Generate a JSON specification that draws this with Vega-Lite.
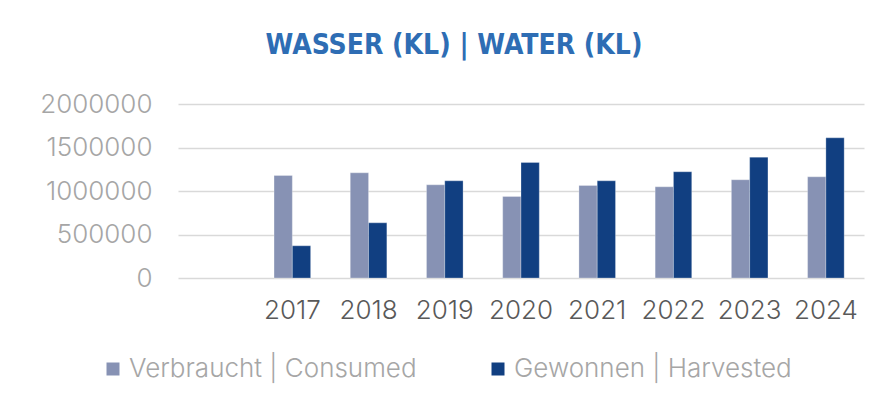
{
  "$schema": "https://vega.github.io/schema/vega-lite/v6.json",
  "autosize": {"type": "none"},
  "width": 686,
  "height": 174,
  "padding": {"left": 178, "top": 104, "right": 31, "bottom": 130},
  "background": "white",
  "title": {
    "text": "WASSER (KL) | WATER (KL)",
    "font": "Liberation Sans Narrow, DejaVu Sans Condensed, Roboto",
    "fontSize": 28,
    "fontWeight": "bold",
    "color": "#2e6db4",
    "anchor": "middle",
    "dx": -67,
    "offset": 31
  },
  "data": {
    "values": [
      {"year": "2017", "series": "Verbraucht | Consumed", "value": 1178000},
      {"year": "2017", "series": "Gewonnen | Harvested", "value": 370000},
      {"year": "2018", "series": "Verbraucht | Consumed", "value": 1209000},
      {"year": "2018", "series": "Gewonnen | Harvested", "value": 634000},
      {"year": "2019", "series": "Verbraucht | Consumed", "value": 1071000},
      {"year": "2019", "series": "Gewonnen | Harvested", "value": 1117000},
      {"year": "2020", "series": "Verbraucht | Consumed", "value": 937000},
      {"year": "2020", "series": "Gewonnen | Harvested", "value": 1328000},
      {"year": "2021", "series": "Verbraucht | Consumed", "value": 1063000},
      {"year": "2021", "series": "Gewonnen | Harvested", "value": 1117000},
      {"year": "2022", "series": "Verbraucht | Consumed", "value": 1048000},
      {"year": "2022", "series": "Gewonnen | Harvested", "value": 1221000},
      {"year": "2023", "series": "Verbraucht | Consumed", "value": 1129000},
      {"year": "2023", "series": "Gewonnen | Harvested", "value": 1389000},
      {"year": "2024", "series": "Verbraucht | Consumed", "value": 1163000},
      {"year": "2024", "series": "Gewonnen | Harvested", "value": 1611000}
    ]
  },
  "mark": {"type": "bar", "stroke": "#ffffff", "strokeOpacity": 0.35, "strokeWidth": 0.8},
  "encoding": {
    "x": {
      "field": "year",
      "type": "nominal",
      "scale": {
        "domain": ["2016", "2017", "2018", "2019", "2020", "2021", "2022", "2023", "2024"],
        "paddingInner": 0.52,
        "paddingOuter": 0.26
      },
      "axis": {
        "title": null,
        "labelAngle": 0,
        "labelExpr": "datum.value == '2016' ? '' : datum.value",
        "labelFont": "Inter",
        "labelFontWeight": 300,
        "labelFontSize": 26,
        "labelColor": "#595959",
        "labelPadding": 19,
        "ticks": false,
        "domain": false
      }
    },
    "xOffset": {
      "field": "series",
      "type": "nominal",
      "scale": {"domain": ["Verbraucht | Consumed", "Gewonnen | Harvested"], "paddingInner": 0, "paddingOuter": 0}
    },
    "y": {
      "field": "value",
      "type": "quantitative",
      "scale": {"domain": [0, 2000000], "nice": false},
      "axis": {
        "title": null,
        "values": [0, 500000, 1000000, 1500000, 2000000],
        "format": "d",
        "labelFont": "Inter",
        "labelFontWeight": 300,
        "labelFontSize": 26,
        "labelColor": "#a6a6a6",
        "labelPadding": 26,
        "ticks": false,
        "domain": false,
        "gridColor": "#d9d9d9",
        "gridWidth": 1.5
      }
    },
    "color": {
      "field": "series",
      "type": "nominal",
      "scale": {"domain": ["Verbraucht | Consumed", "Gewonnen | Harvested"], "range": ["#8792b4", "#113f81"]},
      "legend": {
        "title": null,
        "orient": "none",
        "direction": "horizontal",
        "legendX": -78,
        "legendY": 252,
        "symbolType": "square",
        "symbolSize": 169,
        "symbolStrokeWidth": 0,
        "labelFont": "Inter",
        "labelFontWeight": 300,
        "labelFontSize": 26,
        "labelColor": "#a6a6a6",
        "labelOffset": 3,
        "columnPadding": 68,
        "labelLimit": 400
      }
    }
  },
  "config": {"view": {"stroke": null}}
}
